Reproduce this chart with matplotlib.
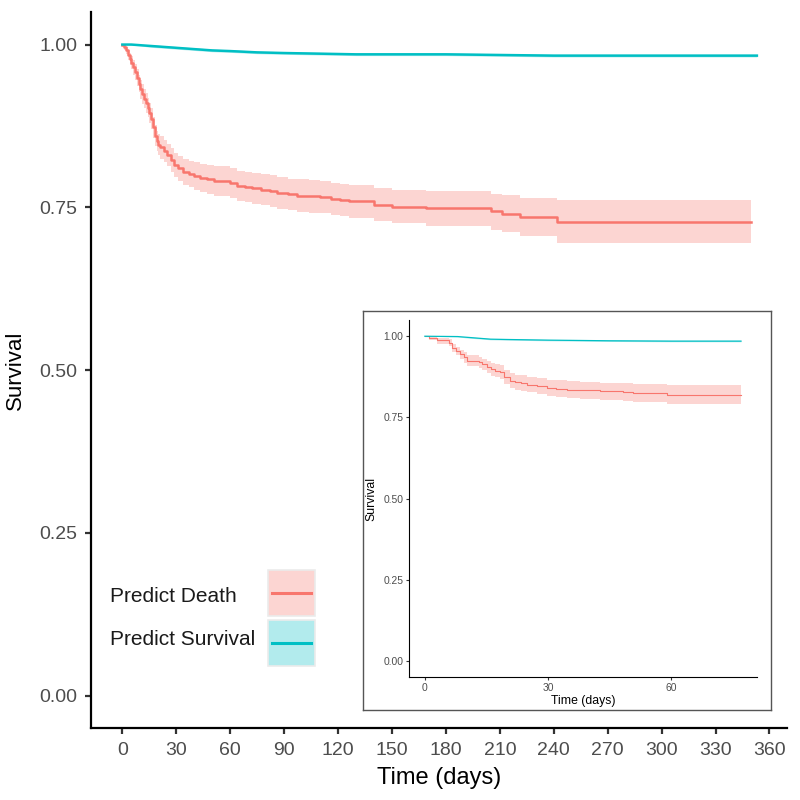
import matplotlib
matplotlib.use("Agg")
import matplotlib.pyplot as plt
from matplotlib.patches import Rectangle
from matplotlib.lines import Line2D

plt.rcParams['font.family'] = ['Liberation Sans', 'DejaVu Sans']

# ---------------- data ----------------
legend_labels = ["Predict Death", "Predict Survival"]
red = "#F8766D"
teal = "#00BFC4"

death_t = [0, 1, 2, 3, 4, 5, 6, 7, 8, 9, 10, 11, 12, 13, 14, 15, 16, 17, 18, 19, 20, 21,
           23, 25, 27, 29, 31, 34, 37, 40, 43, 47, 51, 55, 60, 64, 68, 72, 77, 82, 86,
           92, 97, 104, 110, 116, 121, 126, 140, 150, 169, 205, 211, 221, 242, 350]
death_s = [1.000, 0.996, 0.991, 0.984, 0.978, 0.972, 0.965, 0.958, 0.949, 0.940, 0.931,
           0.924, 0.917, 0.910, 0.903, 0.895, 0.886, 0.873, 0.860, 0.852, 0.846, 0.842,
           0.836, 0.830, 0.823, 0.815, 0.810, 0.805, 0.801, 0.798, 0.795, 0.793, 0.791,
           0.790, 0.787, 0.783, 0.781, 0.779, 0.777, 0.775, 0.772, 0.770, 0.768, 0.767,
           0.766, 0.763, 0.761, 0.759, 0.754, 0.751, 0.749, 0.745, 0.740, 0.735, 0.728,
           0.728]
death_hi = [1.000, 1.000, 0.997, 0.992, 0.987, 0.982, 0.976, 0.970, 0.962, 0.953, 0.945,
            0.939, 0.932, 0.925, 0.918, 0.910, 0.902, 0.889, 0.876, 0.868, 0.862, 0.859,
            0.853, 0.847, 0.841, 0.833, 0.829, 0.825, 0.821, 0.819, 0.817, 0.815, 0.814,
            0.813, 0.810, 0.806, 0.804, 0.803, 0.801, 0.799, 0.796, 0.794, 0.793, 0.792,
            0.791, 0.788, 0.786, 0.784, 0.779, 0.777, 0.775, 0.771, 0.769, 0.765, 0.762,
            0.762]
death_lo = [1.000, 0.992, 0.985, 0.976, 0.969, 0.962, 0.954, 0.946, 0.936, 0.927, 0.917,
            0.909, 0.902, 0.895, 0.888, 0.880, 0.870, 0.857, 0.844, 0.836, 0.830, 0.825,
            0.819, 0.813, 0.805, 0.797, 0.791, 0.785, 0.781, 0.777, 0.773, 0.771, 0.768,
            0.767, 0.764, 0.760, 0.758, 0.755, 0.753, 0.751, 0.748, 0.746, 0.743, 0.742,
            0.741, 0.738, 0.736, 0.734, 0.729, 0.726, 0.722, 0.716, 0.712, 0.706, 0.696,
            0.696]

surv_t = [0, 5, 10, 15, 20, 25, 30, 40, 50, 60, 75, 90, 110, 130, 150, 180, 210, 240, 300, 353]
surv_s = [1.000, 1.000, 0.999, 0.998, 0.997, 0.996, 0.995, 0.993, 0.991, 0.990, 0.988,
          0.987, 0.986, 0.985, 0.985, 0.985, 0.984, 0.983, 0.983, 0.983]
surv_hi = [1.000, 1.000, 1.000, 1.000, 0.999, 0.998, 0.997, 0.995, 0.993, 0.992, 0.990,
           0.989, 0.988, 0.987, 0.987, 0.987, 0.986, 0.985, 0.985, 0.985]
surv_lo = [1.000, 0.999, 0.998, 0.996, 0.995, 0.994, 0.993, 0.991, 0.989, 0.988, 0.986,
           0.985, 0.984, 0.983, 0.983, 0.983, 0.982, 0.981, 0.981, 0.981]

# inset
in_death_t = [0, 1, 3, 5.8, 6.6, 7.5, 8.6, 9.5, 10.3, 13.1, 14, 15.1, 16, 17.1, 18.2, 19.2,
              20.8, 22, 23.3, 25, 27.3, 29.7, 32, 34.6, 37.8, 42.7, 48.3, 50.8, 59, 77]
in_death_s = [1.000, 0.995, 0.987, 0.980, 0.965, 0.955, 0.945, 0.935, 0.925, 0.920, 0.913,
              0.905, 0.899, 0.894, 0.889, 0.874, 0.863, 0.859, 0.856, 0.851, 0.846, 0.841,
              0.838, 0.836, 0.833, 0.830, 0.828, 0.825, 0.820, 0.820]
in_death_hi = [1.000, 1.000, 0.995, 0.990, 0.977, 0.968, 0.959, 0.950, 0.941, 0.937, 0.931,
               0.924, 0.919, 0.915, 0.910, 0.896, 0.886, 0.882, 0.880, 0.875, 0.871, 0.866,
               0.864, 0.862, 0.860, 0.857, 0.855, 0.853, 0.850, 0.850]
in_death_lo = [1.000, 0.988, 0.977, 0.969, 0.952, 0.941, 0.930, 0.919, 0.908, 0.903, 0.895,
               0.886, 0.879, 0.873, 0.868, 0.852, 0.840, 0.836, 0.832, 0.827, 0.821, 0.816,
               0.812, 0.810, 0.806, 0.803, 0.800, 0.797, 0.790, 0.790]

in_surv_t = [0, 8, 10, 12, 14, 16, 20, 30, 45, 60, 77]
in_surv_s = [1.000, 0.999, 0.997, 0.995, 0.993, 0.991, 0.990, 0.988, 0.986, 0.985, 0.985]
in_surv_hi = [1.000, 1.000, 0.999, 0.997, 0.995, 0.993, 0.992, 0.990, 0.988, 0.987, 0.987]
in_surv_lo = [1.000, 0.998, 0.995, 0.993, 0.991, 0.989, 0.988, 0.986, 0.984, 0.983, 0.983]

x_ticks = [0, 30, 60, 90, 120, 150, 180, 210, 240, 270, 300, 330, 360]
in_x_ticks = [0, 30, 60]
y_ticks = [0.00, 0.25, 0.50, 0.75, 1.00]
y_ticklabels = ["0.00", "0.25", "0.50", "0.75", "1.00"]

# ---------------- figure ----------------
fig = plt.figure(figsize=(8, 8), dpi=100)
fig.patch.set_facecolor("white")

def style_axes(ax, lw, ticklen, tickfs, pad):
    for s in ["top", "right"]:
        ax.spines[s].set_visible(False)
    for s in ["left", "bottom"]:
        ax.spines[s].set_linewidth(lw)
        ax.spines[s].set_color("black")
    ax.tick_params(axis="both", length=ticklen, width=lw, color="#333333",
                   labelcolor="#4D4D4D", labelsize=tickfs, pad=pad)

def draw_km(ax, t, s, lo, hi, color, lw, stepped=True):
    if stepped:
        ax.fill_between(t, lo, hi, step="post", color=color, alpha=0.3, linewidth=0)
        ax.step(t, s, where="post", color=color, linewidth=lw)
    else:
        ax.fill_between(t, lo, hi, color=color, alpha=0.3, linewidth=0)
        ax.plot(t, s, color=color, linewidth=lw)

# main axes
ax = fig.add_axes([0.1134, 0.0896, 0.870, 0.8954])
draw_km(ax, death_t, death_s, death_lo, death_hi, red, 1.8)
draw_km(ax, surv_t, surv_s, surv_lo, surv_hi, teal, 1.8, stepped=False)
ax.set_xlim(-17.6, 369.6)
ax.set_ylim(-0.05, 1.05)
ax.set_xticks(x_ticks)
ax.set_yticks(y_ticks)
ax.set_yticklabels(y_ticklabels)
style_axes(ax, 1.6, 4.5, 14, 5)
ax.set_xlabel("Time (days)", fontsize=17, labelpad=6)
ax.set_ylabel("Survival", fontsize=16, labelpad=10)

# legend drawn manually in figure coordinates
key_x0, key_w, key_h = 0.335, 0.059, 0.0575
key_y0s = [0.230, 0.1675]
text_ys = [0.2545, 0.2010]
for lab, col, y0, ty in zip(legend_labels, [red, teal], key_y0s, text_ys):
    fig.patches.append(Rectangle((key_x0, y0), key_w, key_h, transform=fig.transFigure,
                                 facecolor=col, alpha=0.3, edgecolor="none", zorder=5))
    fig.patches.append(Rectangle((key_x0, y0), key_w, key_h, transform=fig.transFigure,
                                 facecolor="none", edgecolor="#EBEBEB", linewidth=1.2, zorder=6))
    fig.lines.append(Line2D([key_x0 + 0.005, key_x0 + key_w - 0.005],
                            [y0 + key_h / 2, y0 + key_h / 2], transform=fig.transFigure,
                            color=col, linewidth=2.2, zorder=7))
    fig.text(0.1375, ty, lab, fontsize=15, color="#1A1A1A", ha="left", va="center")

# inset frame
frame = fig.add_axes([0.454, 0.1125, 0.510, 0.4988])
frame.set_xticks([])
frame.set_yticks([])
for s in frame.spines.values():
    s.set_color("#555555")
    s.set_linewidth(1.0)
frame.set_facecolor("white")

# inset axes
ax2 = fig.add_axes([0.5113, 0.1534, 0.4347, 0.4466])
draw_km(ax2, in_death_t, in_death_s, in_death_lo, in_death_hi, red, 0.8)
draw_km(ax2, in_surv_t, in_surv_s, in_surv_lo, in_surv_hi, teal, 0.9, stepped=False)
ax2.set_xlim(-3.85, 80.85)
ax2.set_ylim(-0.05, 1.05)
ax2.set_xticks(in_x_ticks)
ax2.set_yticks(y_ticks)
ax2.set_yticklabels(y_ticklabels)
style_axes(ax2, 0.8, 2.2, 7.4, 2)
ax2.set_xlabel("Time (days)", fontsize=8.8, labelpad=1)
ax2.set_ylabel("Survival", fontsize=8.8, labelpad=4)

fig.savefig("out.png", dpi=100)
